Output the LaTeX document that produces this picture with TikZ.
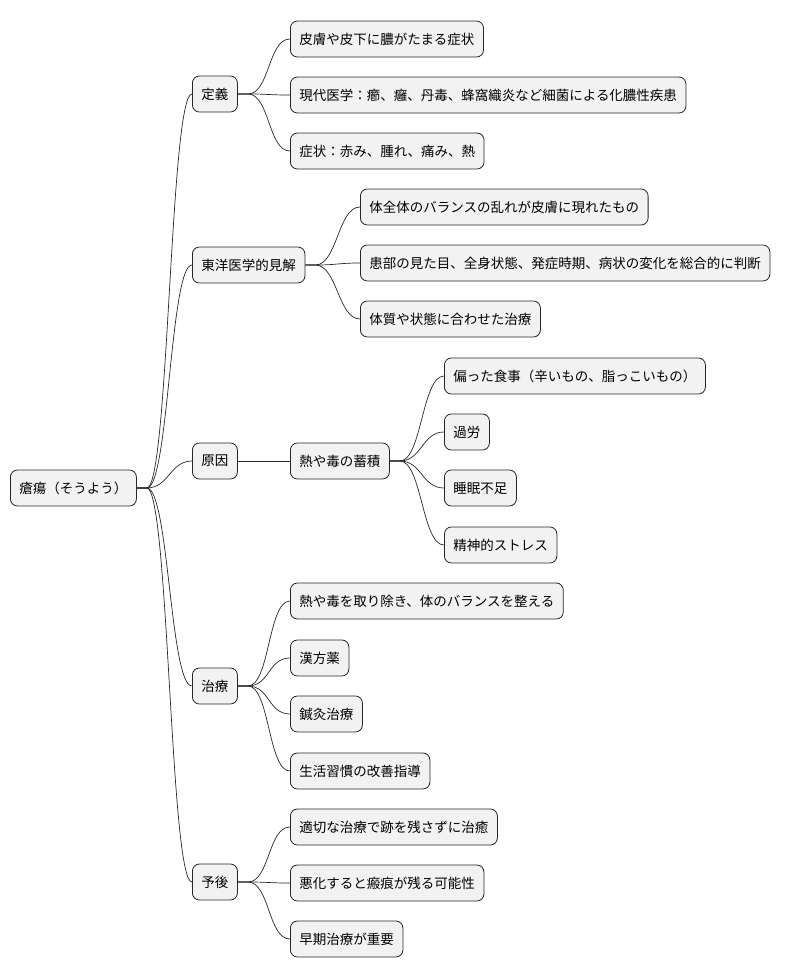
\documentclass[tikz,border=0pt]{standalone}
\usepackage{fontspec}
\newfontfamily\jp{Noto Sans CJK JP}
\usetikzlibrary{positioning}

\newcommand{\conn}[2]{\draw[edge] (#1.east) -- ++(10pt,0) .. controls +(22pt,0) and +(-22pt,0) .. (#2.west);}

\begin{document}
\begin{tikzpicture}[
  x=1pt, y=-1pt,
  topic/.style={draw=black!85, fill=black!5, rounded corners=7pt, line width=0.8pt,
    minimum height=36pt, inner xsep=9pt, anchor=west, font=\jp\fontsize{13.5pt}{16pt}\selectfont},
  edge/.style={draw=black!85, line width=0.7pt},
]
  \useasboundingbox (0,0) rectangle (796,978);

  \node[topic] (root) at (10,488) {瘡瘍（そうよう）};

  % level one
  \node[topic] (teigi) at (192,94) {定義};
  \node[topic] (toyo) at (192,265) {東洋医学的見解};
  \node[topic] (gen) at (192,461) {原因};
  \node[topic] (chiryo) at (192,686) {治療};
  \node[topic] (yogo) at (192,882) {予後};
  \foreach \n in {teigi,toyo,gen,chiryo,yogo} {\conn{root}{\n}}

  % definition
  \node[topic] (t1) at (290,39) {皮膚や皮下に膿がたまる症状};
  \node[topic] (t2) at (290,95) {現代医学：癤、癰、丹毒、蜂窩織炎など細菌による化膿性疾患};
  \node[topic] (t3) at (290,151) {症状：赤み、腫れ、痛み、熱};
  \foreach \n in {t1,t2,t3} {\conn{teigi}{\n}}

  % eastern view
  \node[topic] (e1) at (360,207) {体全体のバランスの乱れが皮膚に現れたもの};
  \node[topic] (e2) at (360,263) {患部の見た目、全身状態、発症時期、病状の変化を総合的に判断};
  \node[topic] (e3) at (360,319) {体質や状態に合わせた治療};
  \foreach \n in {e1,e2,e3} {\conn{toyo}{\n}}

  % cause
  \node[topic] (netsu) at (290,461) {熱や毒の蓄積};
  \draw[edge] (gen) -- (netsu);
  \node[topic] (c1) at (444,376) {偏った食事（辛いもの、脂っこいもの）};
  \node[topic] (c2) at (444,432) {過労};
  \node[topic] (c3) at (444,488) {睡眠不足};
  \node[topic] (c4) at (444,545) {精神的ストレス};
  \foreach \n in {c1,c2,c3,c4} {\conn{netsu}{\n}}

  % treatment
  \node[topic] (r1) at (290,601) {熱や毒を取り除き、体のバランスを整える};
  \node[topic] (r2) at (290,658) {漢方薬};
  \node[topic] (r3) at (290,714) {鍼灸治療};
  \node[topic] (r4) at (290,771) {生活習慣の改善指導};
  \foreach \n in {r1,r2,r3,r4} {\conn{chiryo}{\n}}

  % prognosis
  \node[topic] (p1) at (290,827) {適切な治療で跡を残さずに治癒};
  \node[topic] (p2) at (290,883) {悪化すると瘢痕が残る可能性};
  \node[topic] (p3) at (290,939) {早期治療が重要};
  \foreach \n in {p1,p2,p3} {\conn{yogo}{\n}}
\end{tikzpicture}
\end{document}
